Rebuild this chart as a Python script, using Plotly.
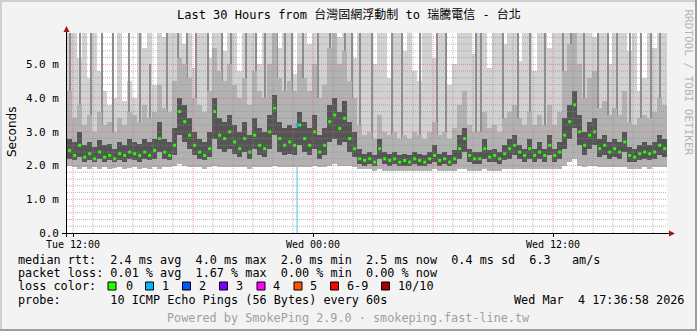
import numpy as np
import pandas as pd
import plotly.graph_objects as go

# ---------------- data (ms) : 15-minute steps from Tue 11:50 ----------------
start_time = "2026-03-03 11:50"
n_steps = 120

median_rtt = [
    2.45, 2.3, 2.6, 2.25, 2.35, 2.2, 2.4, 2.25, 2.3, 2.2,
    2.35, 2.3, 2.4, 2.35, 2.3, 2.4, 2.3, 2.45, 2.8, 2.4,
    2.3, 2.6, 3.6, 3.3, 2.9, 2.6, 2.4, 2.3, 2.5, 3.6,
    2.9, 2.8, 3.0, 2.7, 2.5, 2.8, 2.4, 2.9, 2.6, 2.5,
    3.0, 3.7, 2.8, 2.6, 2.7, 2.6, 3.2, 2.8, 2.6, 3.0,
    2.4, 2.6, 3.3, 3.5, 3.1, 3.4, 2.8, 2.5, 2.2, 2.15,
    2.2, 2.1, 2.5, 2.2, 2.15, 2.2, 2.1, 2.15, 2.1, 2.2,
    2.15, 2.1, 2.2, 2.3, 2.15, 2.2, 2.1, 2.2, 2.5, 2.8,
    2.3, 2.2, 2.2, 2.5, 2.25, 2.3, 2.2, 2.35, 2.5, 2.6,
    2.4, 2.3, 2.5, 2.3, 2.4, 2.3, 2.6, 2.3, 2.4, 2.9,
    3.3, 3.8, 3.0, 2.6, 2.9, 3.0, 2.5, 2.6, 2.4, 2.5,
    2.4, 2.7, 2.3, 2.25, 2.35, 2.4, 2.35, 2.4, 2.6, 2.5,
]

ping_min = [
    2.0, 1.95, 1.9, 1.95, 1.9, 1.95, 1.9, 1.95, 1.9, 1.92,
    1.95, 1.9, 1.92, 1.95, 1.9, 1.92, 1.9, 1.95, 1.9, 1.95,
    1.95, 2.0, 2.05, 2.0, 1.95, 1.95, 1.95, 1.9, 1.95, 2.0,
    1.95, 1.95, 1.95, 1.95, 1.95, 1.95, 1.9, 1.95, 1.95, 1.95,
    1.95, 2.0, 1.95, 1.95, 1.95, 1.95, 1.95, 1.95, 1.95, 2.0,
    1.95, 1.95, 2.0, 2.05, 2.0, 2.0, 2.0, 1.95, 1.9, 1.9,
    1.9, 1.85, 1.9, 1.85, 1.85, 1.85, 1.85, 1.85, 1.85, 1.85,
    1.85, 1.85, 1.85, 1.9, 1.85, 1.85, 1.85, 1.85, 1.9, 1.9,
    1.85, 1.85, 1.85, 1.9, 1.85, 1.85, 1.85, 1.9, 1.9, 1.9,
    1.9, 1.9, 1.9, 1.9, 1.9, 1.9, 1.9, 1.9, 1.9, 2.0,
    2.1, 2.2, 2.0, 1.95, 2.0, 2.0, 1.95, 1.95, 1.95, 1.95,
    1.95, 1.95, 1.9, 1.9, 1.9, 1.95, 1.9, 1.95, 1.95, 1.95,
]

ping_p25 = [
    2.2, 2.15, 2.25, 2.1, 2.15, 2.1, 2.2, 2.1, 2.15, 2.1,
    2.15, 2.1, 2.2, 2.15, 2.1, 2.2, 2.15, 2.2, 2.4, 2.2,
    2.15, 2.3, 2.9, 2.7, 2.5, 2.3, 2.2, 2.15, 2.25, 2.8,
    2.5, 2.4, 2.5, 2.35, 2.25, 2.4, 2.2, 2.5, 2.3, 2.25,
    2.5, 2.9, 2.4, 2.3, 2.35, 2.3, 2.6, 2.4, 2.3, 2.5,
    2.2, 2.3, 2.7, 2.8, 2.6, 2.7, 2.4, 2.25, 2.05, 2.0,
    2.05, 2.0, 2.2, 2.05, 2.0, 2.05, 2.0, 2.0, 2.0, 2.05,
    2.0, 2.0, 2.05, 2.1, 2.0, 2.05, 2.0, 2.05, 2.2, 2.4,
    2.1, 2.05, 2.05, 2.2, 2.1, 2.1, 2.05, 2.15, 2.2, 2.3,
    2.2, 2.1, 2.2, 2.1, 2.2, 2.1, 2.3, 2.1, 2.2, 2.5,
    2.8, 3.1, 2.6, 2.3, 2.5, 2.6, 2.25, 2.3, 2.2, 2.25,
    2.2, 2.4, 2.1, 2.1, 2.15, 2.2, 2.15, 2.2, 2.3, 2.25,
]

ping_p75 = [
    2.8, 2.7, 3.0, 2.6, 2.7, 2.55, 2.75, 2.6, 2.65, 2.5,
    2.7, 2.6, 2.8, 2.7, 2.65, 2.8, 2.7, 2.8, 3.3, 2.8,
    2.7, 3.1, 4.0, 3.8, 3.4, 3.0, 2.8, 2.7, 3.0, 4.0,
    3.4, 3.3, 3.5, 3.2, 3.0, 3.3, 2.9, 3.4, 3.1, 3.0,
    3.5, 4.1, 3.3, 3.1, 3.2, 3.1, 3.6, 3.3, 3.1, 3.5,
    2.9, 3.1, 3.8, 4.0, 3.6, 3.9, 3.3, 3.0, 2.5, 2.35,
    2.4, 2.3, 2.8, 2.4, 2.35, 2.4, 2.3, 2.35, 2.3, 2.4,
    2.35, 2.3, 2.4, 2.6, 2.35, 2.4, 2.3, 2.45, 2.9, 3.1,
    2.5, 2.4, 2.4, 2.8, 2.45, 2.5, 2.4, 2.6, 2.8, 2.9,
    2.6, 2.5, 2.8, 2.5, 2.7, 2.5, 2.9, 2.5, 2.7, 3.4,
    3.8, 4.2, 3.5, 3.0, 3.3, 3.4, 2.8, 2.9, 2.7, 2.8,
    2.7, 3.0, 2.55, 2.5, 2.6, 2.7, 2.6, 2.7, 2.9, 2.8,
]

ping_p90 = [
    4.2, 3.4, 3.8, 3.2, 3.5, 3.0, 3.6, 3.2, 3.3, 3.0,
    3.4, 3.2, 3.6, 3.5, 3.3, 3.8, 3.4, 3.6, 4.4, 3.7,
    3.6, 4.5, 5.2, 5.0, 4.6, 4.0, 3.8, 3.6, 4.2, 5.5,
    4.8, 4.5, 5.0, 4.4, 4.0, 4.6, 3.8, 4.8, 4.2, 4.0,
    5.0, 6.5, 4.6, 4.2, 4.5, 4.2, 5.0, 4.6, 4.2, 5.0,
    4.0, 4.4, 5.5, 6.0, 5.0, 5.4, 4.5, 4.0, 3.2, 2.9,
    3.0, 2.8, 3.5, 3.0, 2.9, 3.0, 2.8, 2.9, 2.8, 3.0,
    2.9, 2.8, 3.0, 3.3, 2.9, 3.0, 2.8, 3.1, 3.8, 4.2,
    3.2, 3.0, 3.0, 3.6, 3.1, 3.2, 3.0, 3.4, 3.6, 3.8,
    3.4, 3.2, 3.6, 3.2, 3.5, 3.2, 3.8, 3.2, 3.6, 4.8,
    5.6, 6.2, 5.0, 4.0, 4.6, 4.8, 3.7, 3.9, 3.5, 3.7,
    3.5, 4.2, 3.3, 3.2, 3.4, 3.5, 3.4, 3.6, 4.0, 3.8,
]

ping_max = [
    6.5, 6.5, 5.2, 6.5, 4.6, 6.5, 4.8, 4.2, 3.8, 4.0,
    6.5, 3.9, 4.5, 4.0, 6.5, 5.5, 6.5, 4.4, 6.5, 5.8,
    6.5, 6.5, 6.5, 5.6, 6.5, 4.9, 6.5, 6.5, 5.2, 6.5,
    6.5, 5.4, 6.5, 6.5, 4.8, 6.5, 6.5, 6.5, 5.0, 6.5,
    6.5, 6.5, 5.5, 6.5, 6.5, 4.7, 6.5, 6.5, 5.6, 6.5,
    6.5, 6.5, 6.5, 6.5, 5.8, 6.5, 6.5, 5.2, 6.5, 6.5,
    6.5, 5.0, 6.5, 6.5, 4.6, 6.5, 6.5, 5.4, 6.5, 4.8,
    4.5, 6.5, 6.5, 5.2, 6.5, 6.5, 4.4, 5.0, 6.5, 6.5,
    6.5, 5.3, 6.5, 6.5, 4.9, 6.5, 6.5, 5.6, 6.5, 6.5,
    5.1, 6.5, 6.5, 4.8, 6.5, 6.5, 5.5, 6.5, 6.5, 6.5,
    6.5, 6.5, 6.5, 6.5, 6.5, 5.8, 6.5, 6.5, 5.0, 6.5,
    6.5, 6.5, 5.4, 6.5, 4.2, 4.6, 6.5, 5.5, 6.5, 6.5,
]

# single outlier pings drawn as thin dark streaks (hours since Tue 00:00)
spike_hours = [
    11.85, 12.35, 12.9, 13.45, 14.0, 14.8, 15.35, 15.85, 16.7, 17.25,
    17.7, 18.15, 18.75, 19.45, 19.9, 20.65, 21.15, 21.6, 22.2, 22.6,
    22.95, 23.5, 24.25, 24.85, 25.6, 25.95, 26.35, 26.95, 27.95, 28.45,
    29.35, 30.2, 30.65, 32.15, 32.4, 33.5, 34.25, 34.85, 35.6, 36.5,
    36.9, 37.55, 38.25, 38.75, 39.2, 39.85, 40.4, 40.9, 41.35,
]
spike_top = [
    6.5, 6.5, 6.5, 6.5, 6.5, 6.5, 6.5, 5.0, 6.5, 6.5,
    6.5, 6.5, 6.5, 6.5, 6.5, 6.5, 6.5, 6.5, 6.5, 6.5,
    6.5, 6.5, 6.5, 6.5, 6.5, 6.5, 6.5, 6.5, 6.5, 6.5,
    6.5, 6.5, 6.5, 6.5, 6.5, 6.5, 6.5, 6.5, 6.5, 6.5,
    6.5, 6.5, 6.5, 6.5, 6.5, 6.5, 6.5, 6.5, 6.5,
]

# packet loss event (1/10 lost)
loss_times = ["2026-03-03 23:12"]
loss_median = [3.2]

y_tick_vals = [0, 1, 2, 3, 4, 5]
y_tick_text = ["0.0", "1.0 m", "2.0 m", "3.0 m", "4.0 m", "5.0 m"]
x_tick_vals = ["2026-03-03 12:00", "2026-03-04 00:00", "2026-03-04 12:00"]
x_tick_text = ["Tue 12:00", "Wed 00:00", "Wed 12:00"]

loss_labels = ["0", "1", "2", "3", "4", "5", "6-9", "10/10"]
loss_colors = ["#26ff00", "#00b8ff", "#0059ff", "#7e00ff", "#ff00ff",
               "#ff5500", "#ff0000", "#a10000"]

legend_rows = [
    "median rtt:  2.4 ms avg  4.0 ms max  2.0 ms min  2.5 ms now  0.4 ms sd  6.3   am/s",
    "packet loss: 0.01 % avg  1.67 % max  0.00 % min  0.00 % now",
    "loss color:",
    "probe:       10 ICMP Echo Pings (56 Bytes) every 60s",
]
stamp_text = "Wed Mar  4 17:36:58 2026"
title_text = "Last 30 Hours from 台灣固網浮動制 to 瑞騰電信 - 台北"
footer_text = "Powered by SmokePing 2.9.0 · smokeping.fast-line.tw"
side_text = "RRDTOOL / TOBI OETIKER"

# ---------------- geometry / style ----------------
W, H = 697, 331
PL, PR, PT, PB = 67, 667, 33, 233
X_RANGE = ["2026-03-03 11:42", "2026-03-04 17:42"]
Y_TOP = 5.93
MONO = "DejaVu Sans Mono, Noto Sans CJK TC, monospace"


def fx(px):
    return (px - PL) / (PR - PL)


def fy(py):
    return (PB - py) / (PB - PT)


def nb(s):
    return s.replace(" ", "\u00a0")


times = pd.date_range(start_time, periods=n_steps, freq="15min")
step_ms = 15 * 60 * 1000

med = np.array(median_rtt)
lo = np.array(ping_min)
p25 = np.array(ping_p25)
p75 = np.array(ping_p75)
p90 = np.array(ping_p90)
hi = np.array(ping_max)

fig = go.Figure()

# loss marker (behind smoke)
fig.add_trace(go.Bar(
    x=pd.to_datetime(loss_times), y=loss_median, base=[0] * len(loss_median),
    width=6 * 60 * 1000, marker=dict(color="#a6e2f6", line=dict(width=0)),
    hoverinfo="skip", showlegend=False))


def band(b, t, color):
    fig.add_trace(go.Bar(
        x=times, base=b, y=t - b, width=step_ms,
        marker=dict(color=color, line=dict(width=0)),
        hoverinfo="skip", showlegend=False))


band(lo, hi, "#d2d2d2")

# thin streaks
day0 = pd.Timestamp("2026-03-03 00:00")
spike_t = [day0 + pd.Timedelta(hours=h) for h in spike_hours]
idx = [int(np.argmin(np.abs((times - t).total_seconds()))) for t in spike_t]
sp_base = p25[idx]
fig.add_trace(go.Bar(
    x=spike_t, base=sp_base, y=np.array(spike_top) - sp_base,
    width=3 * 60 * 1000, marker=dict(color="#8e8e8e", line=dict(width=0)),
    hoverinfo="skip", showlegend=False))

band(lo, p90, "#b2b2b2")
band(p25, p75, "#555555")

# median
fig.add_trace(go.Scatter(
    x=times, y=med, mode="markers",
    marker=dict(symbol="square", size=3, color="#26ff00", line=dict(width=0)),
    hoverinfo="skip", showlegend=False))
fig.add_trace(go.Scatter(
    x=pd.to_datetime(loss_times), y=loss_median, mode="markers",
    marker=dict(symbol="square", size=3, color="#00b8ff", line=dict(width=0)),
    hoverinfo="skip", showlegend=False))

MAJOR_COL = "rgba(225,100,100,0.65)"
MINOR_COL = "rgba(140,140,140,0.6)"
shapes = []
# horizontal grid
for k in range(1, 30):
    v = k * 0.2
    if v > Y_TOP:
        break
    major = (k % 5 == 0)
    shapes.append(dict(type="line", xref="paper", yref="y", x0=0, x1=1, y0=v, y1=v,
                       layer="above",
                       line=dict(color=MAJOR_COL if major else MINOR_COL, width=1, dash="1px,1px")))
# vertical grid hourly
g0 = pd.Timestamp("2026-03-03 12:00")
for h in range(0, 30):
    t = g0 + pd.Timedelta(hours=h)
    major = (h % 6 == 0)
    shapes.append(dict(type="line", xref="x", yref="paper", x0=t, x1=t, y0=0, y1=1,
                       layer="above",
                       line=dict(color=MAJOR_COL if major else MINOR_COL, width=1, dash="1px,1px")))

# axes lines and arrows
shapes.append(dict(type="line", xref="paper", yref="paper", x0=fx(62), x1=fx(670),
                   y0=fy(233.5), y1=fy(233.5), line=dict(color="black", width=1), layer="above"))
shapes.append(dict(type="line", xref="paper", yref="paper", x0=fx(66.5), x1=fx(66.5),
                   y0=fy(237), y1=fy(30), line=dict(color="black", width=1), layer="above"))
arrow_col = "#a01818"
shapes.append(dict(type="path", xref="paper", yref="paper",
                   path=f"M {fx(669)} {fy(230.5)} L {fx(675)} {fy(233.5)} L {fx(669)} {fy(236.5)} Z",
                   fillcolor=arrow_col, line=dict(width=0), layer="above"))
shapes.append(dict(type="path", xref="paper", yref="paper",
                   path=f"M {fx(63.5)} {fy(32)} L {fx(66.5)} {fy(26)} L {fx(69.5)} {fy(32)} Z",
                   fillcolor=arrow_col, line=dict(width=0), layer="above"))

# frame (3D shade)
shapes.append(dict(type="line", xref="paper", yref="paper", x0=fx(1), x1=fx(1), y0=fy(0), y1=fy(331),
                   line=dict(color="#cfcfcf", width=2)))
shapes.append(dict(type="line", xref="paper", yref="paper", x0=fx(0), x1=fx(697), y0=fy(1), y1=fy(1),
                   line=dict(color="#cfcfcf", width=2)))
shapes.append(dict(type="line", xref="paper", yref="paper", x0=fx(696), x1=fx(696), y0=fy(0), y1=fy(331),
                   line=dict(color="#9e9e9e", width=2)))
shapes.append(dict(type="line", xref="paper", yref="paper", x0=fx(0), x1=fx(697), y0=fy(330), y1=fy(330),
                   line=dict(color="#9e9e9e", width=2)))

# loss colour boxes
box_x = [108, 145.5, 182.5, 219.5, 257, 294, 330.5, 381.5]
lab_x = [123.5, 160, 197, 234, 271, 308, 345, 396]
annotations = []
for bx, lx, lab, col in zip(box_x, lab_x, loss_labels, loss_colors):
    shapes.append(dict(type="rect", xref="paper", yref="paper",
                       x0=fx(bx), x1=fx(bx + 8), y0=fy(282), y1=fy(290),
                       fillcolor=col, line=dict(color="black", width=1)))
    annotations.append(dict(text=nb(lab), xref="paper", yref="paper", x=fx(lx), y=fy(286),
                            xanchor="left", yanchor="middle", showarrow=False,
                            font=dict(family=MONO, size=11.8, color="black")))

row_y = [259.5, 272.5, 286, 299.5]
for txt, yy in zip(legend_rows, row_y):
    annotations.append(dict(text=nb(txt), xref="paper", yref="paper", x=fx(16), y=fy(yy),
                            xanchor="left", yanchor="middle", showarrow=False,
                            font=dict(family=MONO, size=11.8, color="black")))
annotations.append(dict(text=nb(stamp_text), xref="paper", yref="paper", x=fx(686), y=fy(299.5),
                        xanchor="right", yanchor="middle", showarrow=False,
                        font=dict(family=MONO, size=11.8, color="black")))
annotations.append(dict(text=nb(footer_text), xref="paper", yref="paper", x=fx(348.5), y=fy(318),
                        xanchor="center", yanchor="middle", showarrow=False,
                        font=dict(family=MONO, size=11.8, color="#a0a0a0")))
annotations.append(dict(text=nb(title_text), xref="paper", yref="paper", x=fx(348.5), y=fy(15),
                        xanchor="center", yanchor="middle", showarrow=False,
                        font=dict(family=MONO, size=12, color="black")))
annotations.append(dict(text="Seconds", xref="paper", yref="paper", x=fx(12), y=fy(132),
                        xanchor="center", yanchor="middle", showarrow=False, textangle=-90,
                        font=dict(family="DejaVu Sans, sans-serif", size=12, color="black")))
annotations.append(dict(text=nb(side_text), xref="paper", yref="paper", x=fx(688.5), y=fy(82),
                        xanchor="center", yanchor="middle", showarrow=False, textangle=90,
                        font=dict(family=MONO, size=11, color="#b4b4b4")))

fig.update_layout(
    width=W, height=H,
    margin=dict(l=PL, r=W - PR, t=PT, b=H - PB, pad=0),
    paper_bgcolor="#f3f3f3", plot_bgcolor="white",
    barmode="overlay", bargap=0,
    showlegend=False,
    shapes=shapes, annotations=annotations,
    xaxis=dict(type="date", range=X_RANGE, tickvals=x_tick_vals, ticktext=x_tick_text,
               showgrid=False, zeroline=False, showline=False,
               ticks="outside", ticklen=3, tickcolor="black", tickwidth=1,
               ticklabelstandoff=-1,
               tickfont=dict(family=MONO, size=10, color="black")),
    yaxis=dict(range=[0, Y_TOP], tickvals=y_tick_vals, ticktext=y_tick_text,
               showgrid=False, zeroline=False, showline=False, ticks="",
               ticklabelstandoff=7,
               tickfont=dict(family=MONO, size=11, color="black")),
)

fig.write_html("out.html")
